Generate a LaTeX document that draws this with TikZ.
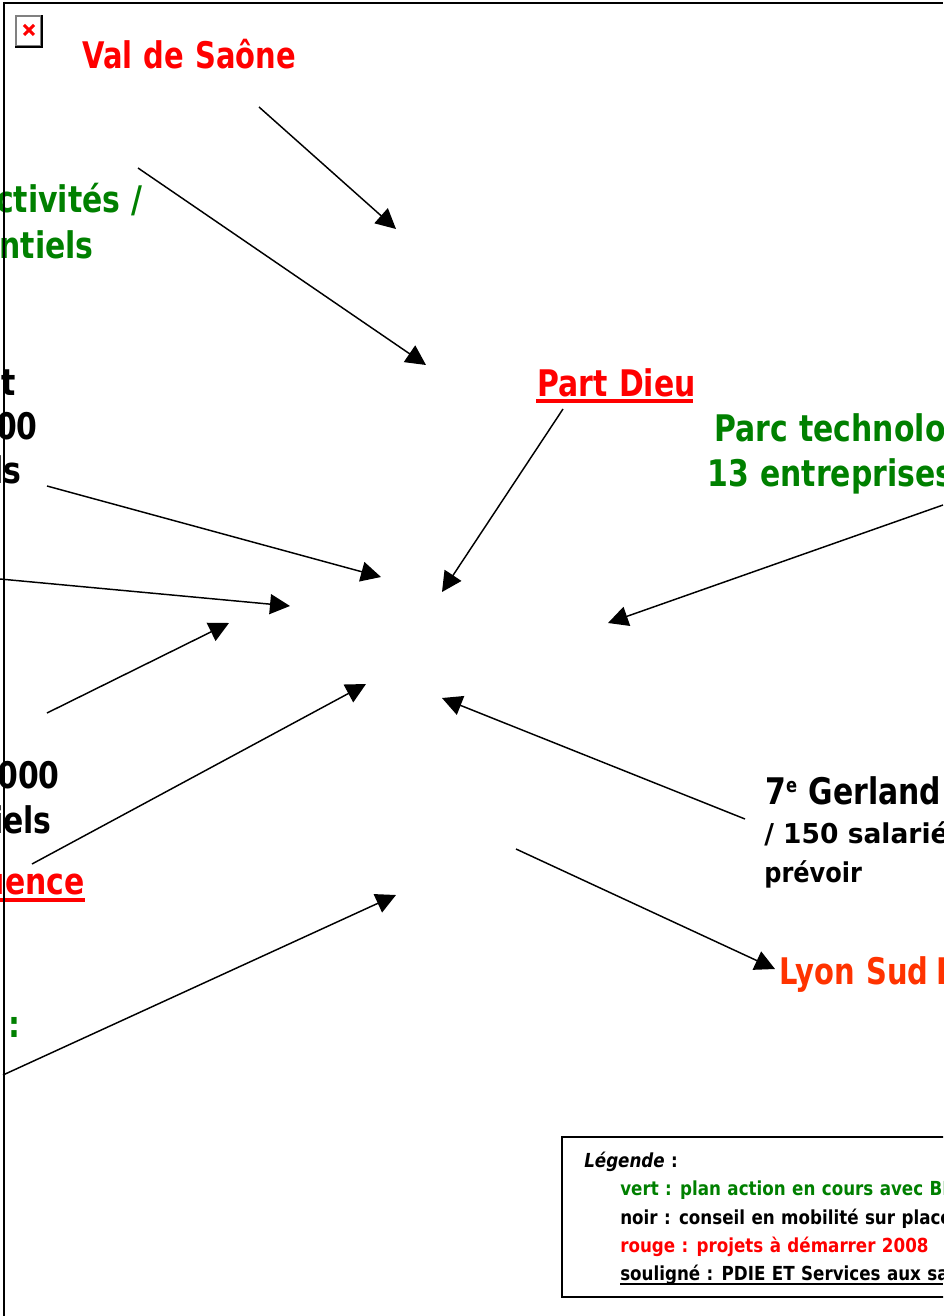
\documentclass[tikz,border=0pt]{standalone}
\usepackage{fontspec}
\setmainfont{DejaVu Sans}
\newfontfamily\tah[FakeStretch=0.815,WordSpace=1.1]{DejaVu Sans}
\newfontfamily\tahn[FakeStretch=0.79,WordSpace=1.1]{DejaVu Sans}
\newfontfamily\tahm[FakeStretch=0.88]{DejaVu Sans}
\newfontfamily\tahw[FakeStretch=0.97]{DejaVu Sans}
\newfontfamily\tahl[FakeStretch=0.865,WordSpace=1.1]{DejaVu Sans}
\usetikzlibrary{arrows.meta}
\definecolor{vert}{HTML}{008000}
\definecolor{rouge}{HTML}{FF0000}
\definecolor{orangerouge}{HTML}{FF3300}
\tikzset{
  x=0.75pt,y=-0.75pt,
  big/.style={anchor=base west,inner sep=0pt,font=\tah\bfseries\fontsize{27.5}{30}\selectfont},
  bign/.style={big,font=\tahn\bfseries\fontsize{27.5}{30}\selectfont},
  bigr/.style={big,anchor=base east},
  mid/.style={anchor=base west,inner sep=0pt,font=\tahm\bfseries\fontsize{20.5}{24}\selectfont},
  leg/.style={anchor=base west,inner sep=0pt,font=\tahl\bfseries\fontsize{14.5}{17}\selectfont},
  arrow/.style={line width=1.1pt,-{Triangle[length=15pt,width=15pt]}},
  frame/.style={line width=1.6pt,black},
  ubar/.style={line width=2.6pt},
}
\begin{document}
\begin{tikzpicture}
\useasboundingbox (0,0) rectangle (943,1316);
\clip (0,0) rectangle (943,1316);
% text labels
\node[bign,rouge] (val) at (82,69) {Val de Saône};
\node[bigr,vert] (act) at (143,213) {ctivités /};
\node[bigr,vert] (ent) at (94,258) {entiels};
\node[bigr] (et) at (16,395) {et};
\node[bigr] (oo) at (38,439) {00};
\node[bigr] (ls) at (22,483) {ls};
\node[bigr] (ooo) at (60,788) {000};
\node[bigr] (iels) at (52,833) {iels};
\node[bigr,rouge] (uence) at (85,894) {uence};
\node[bigr,vert] (colon) at (21,1037) {:};
\node[big,rouge] (part) at (537,396) {Part Dieu};
\node[big,vert] (parc) at (714,441) {Parc technolo};
\node[big,vert] (treize) at (707,486) {13 entreprises};
\node[big] (gerland) at (765,804) {7{\fontsize{15}{15}\selectfont\raisebox{9pt}{e}} Gerland};
\node[mid,font=\tahw\bfseries\fontsize{20.5}{24}\selectfont] (sal) at (764,843) {/ 150 salarié};
\node[mid] (prev) at (764,882) {prévoir};
\node[bign,orangerouge] (lyon) at (779,984) {Lyon Sud\hspace{6pt}E};
% underlines
\draw[ubar,rouge] (536,401) -- (693,401);
\draw[ubar,rouge] (0,900) -- (85,900);
% frame
\draw[frame] (4,3) -- (943,3);
\draw[frame] (4,2) -- (4,1316);
% broken image icon
\node[draw=black!50,line width=1.3pt,fill=white,minimum width=19pt,minimum height=22.5pt,inner sep=0pt,outer sep=0pt,anchor=north west] (icon) at (16,16) {};
\draw[black,line width=1.1pt] ([xshift=0.6pt,yshift=0.6pt]icon.north east) -- ([xshift=0.6pt,yshift=-0.6pt]icon.south east) -- ([xshift=-0.6pt,yshift=-0.6pt]icon.south west);
\draw[rouge,line width=2.2pt] (24,25) -- (34,35) (34,25) -- (24,35);
% legend
\node[draw=black,line width=1.3pt,fill=white,anchor=north west,minimum width=320pt,minimum height=120pt,inner sep=0pt,outer sep=0pt] (legbox) at (562,1137) {};
\node[leg,font=\tahl\bfseries\itshape\fontsize{14.5}{17}\selectfont] (lg) at (584,1167) {Légende\textup{ :}};
\node[leg,vert] (l1) at (620,1195) {vert : plan action en cours avec BE};
\node[leg] (l2) at (620,1224) {noir : conseil en mobilité sur place};
\node[leg,rouge] (l3) at (620,1252) {rouge : projets à démarrer 2008};
\node[leg] (l4) at (620,1280) {souligné : PDIE ET Services aux sa};
\draw[line width=1.5pt] (620,1283.5) -- (943,1283.5);
% arrow ends
\coordinate (a1) at (259,107);  \coordinate (b1) at (396,229);
\coordinate (a2) at (138,168);  \coordinate (b2) at (426,365);
\coordinate (a3) at (47,486);   \coordinate (b3) at (381,577);
\coordinate (a4) at (0,579);    \coordinate (b4) at (290,606);
\coordinate (a5) at (47,713);   \coordinate (b5) at (229,623);
\coordinate (a6) at (32,864);   \coordinate (b6) at (366,684);
\coordinate (a7) at (3,1075);   \coordinate (b7) at (396,895);
\coordinate (a8) at (563,409);  \coordinate (b8) at (442,592);
\coordinate (a9) at (943,505);  \coordinate (b9) at (608,623);
\coordinate (a10) at (745,819); \coordinate (b10) at (442,698);
\coordinate (a11) at (516,849); \coordinate (b11) at (775,969);
\foreach \i in {1,...,11} \draw[arrow] (a\i) -- (b\i);
\end{tikzpicture}
\end{document}
